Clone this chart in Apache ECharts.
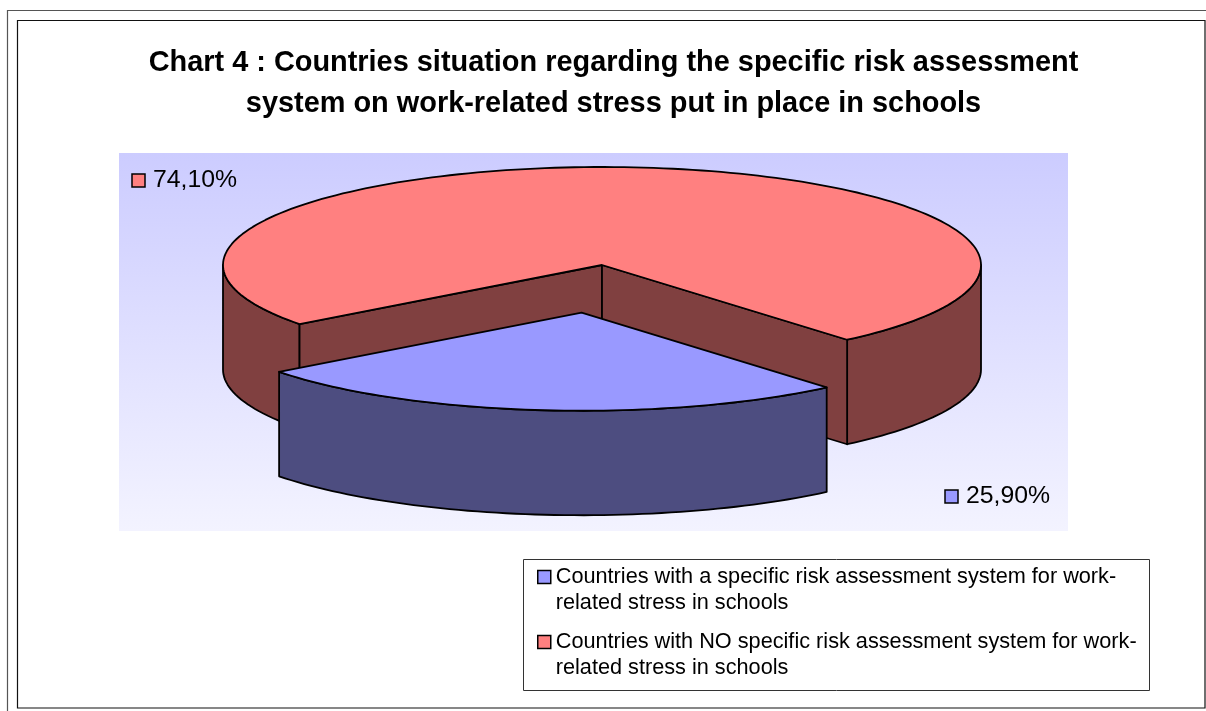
<!DOCTYPE html>
<html>
<head>
<meta charset="utf-8">
<title>Chart 4</title>
<style>html,body{margin:0;padding:0;background:#fff}#chart{width:1206px;height:711px}</style>
<script src="https://cdn.jsdelivr.net/npm/echarts@6/dist/echarts.min.js"></script>
</head>
<body>
<div id="chart"></div>
<script>
// Slice data, in percent, in drawing order around the pie
const categories = [
  'Countries with a specific risk assessment system for work-\nrelated stress in schools',
  'Countries with NO specific risk assessment system for work-\nrelated stress in schools'
];
const shares = [25.9, 74.1];
const valueLabels = ['25,90%', '74,10%'];
const topColors = ['#9999FF', '#FF8080'];
const wallColors = ['#4D4D80', '#804040'];
const titleText = 'Chart 4 : Countries situation regarding the specific risk assessment\nsystem on work-related stress put in place in schools';

// Projection of the pie disc
const CX = 602, CY = 265, RX = 379, RY = 98, DEPTH = 104.5;
const START_DEG = 49.7, EXPLODE = 0.49;
const FONT = '"Liberation Sans", Arial, sans-serif';
const LABEL_POS = [[945, 496], [132, 180]];

const rad = d => d * Math.PI / 180;
const total = shares.reduce((a, b) => a + b, 0);

// Start and end angle of a slice on the ellipse, in degrees (screen clockwise)
function sliceSpan(i) {
  let a = START_DEG;
  for (let k = 0; k < i; k++) a += shares[k] / total * 360;
  return [a, a + shares[i] / total * 360];
}

function arcPoints(cx, cy, from, to, dy) {
  const n = Math.max(2, Math.ceil(Math.abs(to - from) / 1.5));
  const pts = [];
  for (let k = 0; k <= n; k++) {
    const t = rad(from + (to - from) * k / n);
    pts.push([cx + RX * Math.cos(t), cy + RY * Math.sin(t) + dy]);
  }
  return pts;
}

const edge = { stroke: '#000', lineWidth: 1.8, lineJoin: 'round' };

function poly(points, fill) {
  return { type: 'polygon', shape: { points }, style: Object.assign({ fill }, edge) };
}

// Outer wall between two angles
function wall(cx, cy, from, to, fill) {
  const top = arcPoints(cx, cy, from, to, 0);
  const bottom = arcPoints(cx, cy, from, to, DEPTH).reverse();
  return poly(top.concat(bottom), fill);
}

// Flat wall running from the pie centre to a rim point
function cutFace(cx, cy, deg, fill) {
  const p = arcPoints(cx, cy, deg, deg, 0)[0];
  return poly([[cx, cy], p, [p[0], p[1] + DEPTH], [cx, cy + DEPTH]], fill);
}

function valueLabel(i) {
  const [x, y] = LABEL_POS[i];
  return [
    { type: 'rect', shape: { x: x, y: y - 6, width: 13, height: 13 },
      style: { fill: topColors[i], stroke: '#000', lineWidth: 1.5 } },
    { type: 'text', x: x + 21, y: y,
      style: { text: valueLabels[i], fill: '#000', font: '24.8px ' + FONT, align: 'left', verticalAlign: 'middle' } }
  ];
}

function renderSlice(i) {
  const [a0, a1] = sliceSpan(i);
  const mid = rad((a0 + a1) / 2);
  const off = shares[i] < 50 ? EXPLODE : 0;
  const cx = CX + RX * off * Math.cos(mid);
  const cy = CY + RY * off * Math.sin(mid);
  const children = [];
  if (off) {
    children.push(wall(cx, cy, a0, a1, wallColors[i]));
  } else {
    // Only the front part of the rim and both cut faces can be seen
    children.push(wall(cx, cy, a0, 180, wallColors[i]));
    children.push(wall(cx, cy, 360, a1, wallColors[i]));
    children.push(cutFace(cx, cy, a0, wallColors[i]));
    children.push(cutFace(cx, cy, a1, wallColors[i]));
  }
  children.push(poly([[cx, cy]].concat(arcPoints(cx, cy, a0, a1, 0)), topColors[i]));
  return { type: 'group', children: children.concat(valueLabel(i)) };
}

const sliceSeries = i => ({
  type: 'custom',
  name: categories[i],
  coordinateSystem: 'none',
  z: i === 1 ? 2 : 3,
  clip: false,
  silent: true,
  itemStyle: { color: topColors[i] },
  data: [[shares[i]]],
  renderItem: () => renderSlice(i)
});

const frame = (x, y, w, h, stroke) => ({
  type: 'rect', shape: { x, y, width: w, height: h },
  style: { fill: 'transparent', stroke, lineWidth: 1.2 }
});

const chart = echarts.init(document.getElementById('chart'), null, { renderer: 'canvas' });
chart.setOption({
  animation: false,
  backgroundColor: '#fff',
  title: {
    text: titleText,
    left: 608.5, top: 38, textAlign: 'center',
    textStyle: { fontFamily: FONT, fontWeight: 'bold', fontSize: 28.9, lineHeight: 41, color: '#000' }
  },
  legend: {
    data: categories,
    orient: 'vertical',
    left: 537, top: 538,
    padding: 0,
    itemWidth: 13, itemHeight: 13, itemGap: -13, textGap: 8,
    itemStyle: { borderColor: '#000', borderWidth: 1.5 },
    icon: 'rect',
    selectedMode: false,
    // The blank first line keeps each key level with the first line of its text
    formatter: name => '\n' + name,
    textStyle: { fontFamily: FONT, fontSize: 21.7, lineHeight: 26, color: '#000' }
  },
  graphic: [
    frame(7.5, 10.5, 1300, 800, '#555'),
    frame(17.5, 20.5, 1187.5, 687.5, '#111'),
    { type: 'rect', shape: { x: 119, y: 153, width: 949, height: 378 },
      style: { fill: new echarts.graphic.LinearGradient(0, 0, 0, 1, [
        { offset: 0, color: '#CCCCFF' }, { offset: 1, color: '#F3F3FF' }]) } },
    { type: 'rect', shape: { x: 523.5, y: 559.5, width: 626, height: 131 },
      style: { fill: '#fff', stroke: '#333', lineWidth: 1 } }
  ],
  series: [sliceSeries(1), sliceSeries(0)]
});
</script>
</body>
</html>
